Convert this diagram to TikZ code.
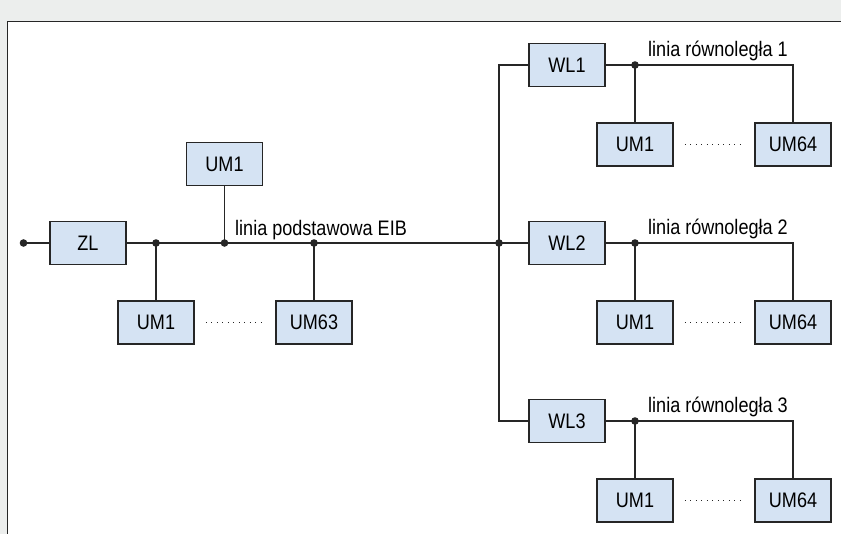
\documentclass[tikz,border=0pt]{standalone}
\usepackage{fontspec}
\setmainfont{Liberation Sans}[FakeStretch=0.86]
\usepackage{tikz}
\usetikzlibrary{math}
\usetikzlibrary{calc}

\definecolor{panelgrey}{HTML}{ECEEED}
\definecolor{boxblue}{HTML}{D5E3F3}
\definecolor{linegrey}{HTML}{262626}

\tikzset{
  unit/.style={draw=linegrey, fill=boxblue, line width=1.5pt, minimum width=76pt,
    minimum height=43pt, inner sep=0pt, text=black, font=\fontsize{21}{24}\selectfont},
  bus/.style={draw=linegrey, line width=1.3pt},
  gap/.style={draw=linegrey, line width=1pt, dash pattern=on 1pt off 4.5pt,
    shorten <=11pt, shorten >=10pt},
  linetext/.style={inner sep=0pt, text=black, font=\fontsize{21}{24}\selectfont},
}

\begin{document}
\begin{tikzpicture}[x=1pt,y=-1pt]

  \tikzmath{
    \busy   = 243;   % height of the main EIB line
    \rowgap = 178;   % distance between the parallel lines
    \drop   = 79.5;  % distance from a line down to its UM row
    \dotr   = 3.8;   % radius of the junction dots
  }

  \useasboundingbox (0,0) rectangle (841,534);

  % grey frame with the white panel
  \fill[panelgrey] (0,0) rectangle (841,534);
  \fill[white] (7.5,21.5) rectangle (841,534);
  \draw[linegrey, line width=1.5pt] (841,21.5) -- (7.5,21.5) -- (7.5,534);

  % main line
  \coordinate (in) at (23.5,\busy);
  \coordinate (j0) at (499,\busy);
  \node[unit] (zl)   at (88,\busy)     {ZL};
  \node[unit] (um1t) at (224.5,164)    {UM1};
  \node[unit] (um1b) at (156,322.5)    {UM1};
  \node[unit] (um63) at (314,322.5)    {UM63};
  \coordinate (j1) at (um1b |- zl);
  \coordinate (j2) at (um1t |- zl);
  \coordinate (j3) at (um63 |- zl);

  \draw[bus] (in) -- (zl.west);
  \draw[bus] (zl.east) -- (j0);
  \draw[bus] (j1) -- (um1b.north);
  \draw[bus] (j2) -- (um1t.south);
  \draw[bus] (j3) -- (um63.north);
  \draw[gap] (um1b.east) -- (um63.west);
  \foreach \p in {in,j1,j2,j3,j0}
    \fill[linegrey] (\p) circle [radius=\dotr pt];
  \node[linetext, anchor=base west] (eib) at (235,236) {linia podstawowa EIB};

  % parallel lines behind the line couplers
  \foreach \k in {1,2,3} {
    \pgfmathsetmacro\rowy{\busy+(\k-2)*\rowgap}
    \node[unit] (wl\k)  at (567,\rowy)       {WL\k};
    \node[unit] (uma\k) at (635,\rowy+\drop) {UM1};
    \node[unit] (umz\k) at (793,\rowy+\drop) {UM64};
    \coordinate (t\k) at (uma\k |- wl\k);
    \coordinate (e\k) at (umz\k |- wl\k);
    \draw[bus] (wl\k.east) -- (e\k) -- (umz\k.north);
    \draw[bus] (t\k) -- (uma\k.north);
    \draw[gap] (uma\k.east) -- (umz\k.west);
    \fill[linegrey] (t\k) circle [radius=\dotr pt];
    \node[linetext, anchor=base west] (par\k) at ($(t\k)+(13,-8)$) {linia równoległa \k};
  }

  % vertical link to the couplers
  \draw[bus] (wl1.west) -- (wl1.west -| j0) -- (wl3.west -| j0) -- (wl3.west);
  \draw[bus] (j0) -- (wl2.west);

\end{tikzpicture}
\end{document}
